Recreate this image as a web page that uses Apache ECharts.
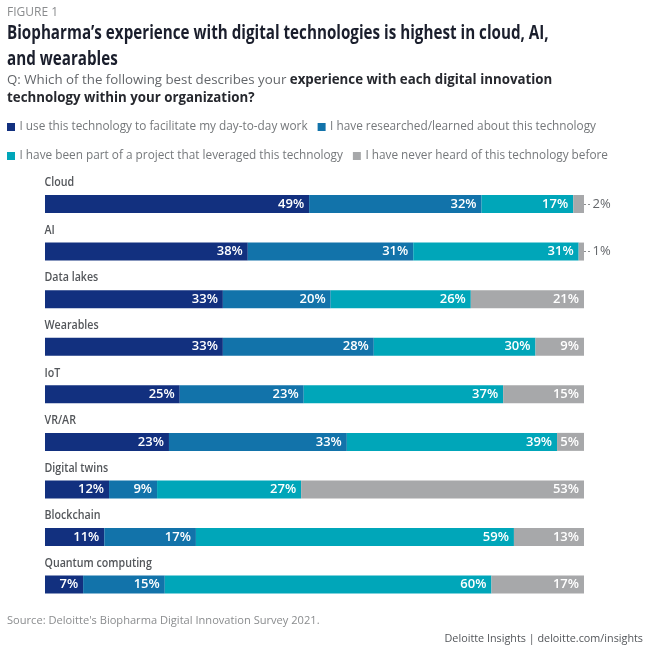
<!DOCTYPE html>
<html>
<head>
<meta charset="utf-8">
<style>
html, body { margin: 0; padding: 0; background: #fff; }
#main { width: 652px; height: 652px; }
</style>
<script src="https://cdn.jsdelivr.net/npm/echarts@6/dist/echarts.min.js"></script>
</head>
<body>
<div id="main"></div>
<script>
// categories, top to bottom
let categories = ['Cloud', 'AI', 'Data lakes', 'Wearables', 'IoT', 'VR/AR', 'Digital twins', 'Blockchain', 'Quantum computing'];

// series values, as printed on the bars (%)
let useDaily = [49, 38, 33, 33, 25, 23, 12, 11, 7];
let researched = [32, 31, 20, 28, 23, 33, 9, 17, 15];
let project = [17, 31, 26, 30, 37, 39, 27, 59, 60];
let neverHeard = [2, 1, 21, 9, 15, 5, 53, 13, 17];

let seriesNames = [
	'I use this technology to facilitate my day-to-day work',
	'I have researched/learned about this technology',
	'I have been part of a project that leveraged this technology',
	'I have never heard of this technology before'
];
let seriesValues = [useDaily, researched, project, neverHeard];
let colors = ['#12307f', '#1273aa', '#00a6b9', '#a7a8aa'];

let textFont = '"Open Sans", sans-serif';

// the printed values are rounded, every bar still fills the full width
function rowTotal(i) {
	return useDaily[i] + researched[i] + project[i] + neverHeard[i];
}

// small slices get their label outside the bar, with a dashed leader
let leaders = [];
neverHeard.forEach(function (v, i) {
	if (v <= 2) leaders.push([{ coord: [100, categories[i]] }, { coord: [101.2, categories[i]] }]);
});

let myChart = echarts.init(document.getElementById('main'));

let barSeries = seriesValues.map(function (values, s) {
	return {
		name: seriesNames[s],
		type: 'bar',
		stack: 'answers',
		barWidth: 18,
		itemStyle: { color: colors[s] },
		data: values.map(function (v, i) {
			return {
				value: v / rowTotal(i) * 100,
				raw: v,
				label: v <= 2 ? {
					position: 'right',
					distance: 8.5,
					color: '#63666a',
					fontWeight: 'normal'
				} : {}
			};
		}),
		label: {
			show: true,
			position: 'insideRight',
			distance: 5,
			fontFamily: textFont,
			fontSize: 13,
			fontWeight: 600,
			color: '#fff',
			formatter: function (p) { return p.data.raw + '%'; }
		},
		markLine: s === 3 ? {
			silent: true,
			symbol: 'none',
			label: { show: false },
			lineStyle: { color: '#8a8c8e', type: [2, 2], width: 1 },
			data: leaders
		} : undefined
	};
});

// category names sit above the bars, squeezed like the condensed face of the original
let nameSeries = {
	type: 'custom',
	silent: true,
	data: categories.map(function (c) { return [0, c]; }),
	encode: { x: 0, y: 1 },
	renderItem: function (params, api) {
		let pos = api.coord([0, categories[params.dataIndex]]);
		return {
			type: 'text',
			x: pos[0] - 0.5,
			y: pos[1] - 21.5,
			scaleX: 0.82,
			style: {
				text: categories[params.dataIndex],
				fontFamily: textFont,
				fontSize: 13,
				fontWeight: 600,
				fill: '#53565a',
				verticalAlign: 'middle'
			}
		};
	}
};

let option = {
	animation: false,
	backgroundColor: '#fff',
	title: [{
		left: 7, top: 7, padding: 0,
		text: 'FIGURE 1',
		textStyle: { fontFamily: textFont, fontSize: 12, fontWeight: 'normal', color: '#8a8c8e' }
	}, {
		left: 7, top: 71, padding: 0,
		text: '{a|Q: Which of the following best describes your }{b|experience with each digital innovation}\n{b|technology within your organization?}',
		textStyle: {
			rich: {
				a: { fontFamily: textFont, fontSize: 13.3, fontWeight: 'normal', color: '#63666a', lineHeight: 18 },
				b: { fontFamily: textFont, fontSize: 13.3, fontWeight: 'bold', color: '#26282e', lineHeight: 18 }
			}
		}
	}, {
		left: 7, top: 615, padding: 0,
		text: 'Source: Deloitte\'s Biopharma Digital Innovation Survey 2021.',
		textStyle: { fontFamily: textFont, fontSize: 11.1, fontWeight: 'normal', color: '#8a8c8e' }
	}, {
		right: 9, top: 633, padding: 0,
		text: 'Deloitte Insights | deloitte.com/insights',
		textStyle: { fontFamily: textFont, fontSize: 10.8, fontWeight: 'normal', color: '#53565a' }
	}],
	// the headline needs a condensed look, only a graphic text can be scaled
	graphic: [{
		type: 'text',
		x: 7,
		y: 21,
		scaleX: 0.8,
		style: {
			text: 'Biopharma’s experience with digital technologies is highest in cloud, AI,\nand wearables',
			fontFamily: textFont,
			fontSize: 19,
			fontWeight: 'bold',
			lineHeight: 26,
			fill: '#1a1e2c'
		}
	}],
	legend: [{
		left: 7, top: 121, padding: 0,
		data: seriesNames.slice(0, 2),
		icon: 'rect', itemWidth: 8, itemHeight: 8, itemGap: 10,
		textStyle: { fontFamily: textFont, fontSize: 11.8, color: '#75787b', padding: [0, 0, 0, -0.5] }
	}, {
		left: 7, top: 150, padding: 0,
		data: seriesNames.slice(2),
		icon: 'rect', itemWidth: 8, itemHeight: 8, itemGap: 10,
		textStyle: { fontFamily: textFont, fontSize: 11.8, color: '#75787b', padding: [0, 0, 0, -0.5] }
	}],
	grid: { left: 45, width: 592.9, top: 180.2, height: 428.2 },
	xAxis: { type: 'value', min: 0, max: 110, show: false },
	yAxis: {
		type: 'category',
		inverse: true,
		data: categories,
		axisLine: { show: false },
		axisTick: { show: false },
		axisLabel: { show: false }
	},
	series: barSeries.concat([nameSeries])
};

myChart.setOption(option);
</script>
</body>
</html>
